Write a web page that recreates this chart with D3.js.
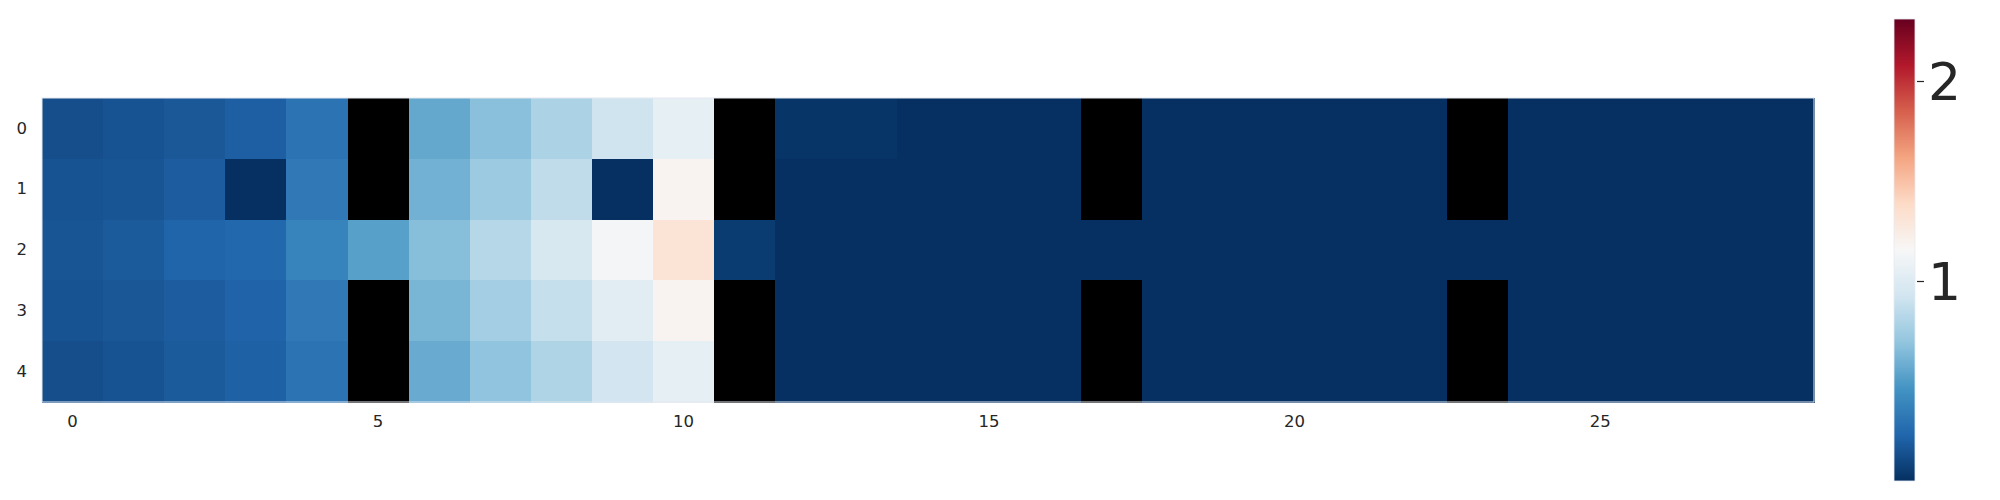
<!DOCTYPE html>
<html>
<head>
<meta charset="utf-8">
<script src="https://cdn.jsdelivr.net/npm/d3@7"></script>
<style>
  html, body { margin: 0; padding: 0; background: #ffffff; }
  svg { display: block; font-family: "DejaVu Sans", sans-serif; }
</style>
</head>
<body>
<svg id="chart" width="2000" height="500"></svg>
<script>
// ---- data (null = missing, drawn black) ----
const rowLabels = ["0", "1", "2", "3", "4"];
const colIndex = d3.range(29);
const xTickLabels = [0, 5, 10, 15, 20, 25];
const cbarTicks = [1, 2];
const cbarDomain = [0, 2.31];

const row0 = [0.13, 0.15, 0.17, 0.20, 0.30, null, 0.56, 0.67, 0.79, 0.92, 1.05, null, 0.02, 0.02, 0, 0, 0, null, 0, 0, 0, 0, 0, null, 0, 0, 0, 0, 0];
const row1 = [0.15, 0.16, 0.19, 0.00, 0.33, null, 0.60, 0.73, 0.86, 0.00, 1.19, null, 0, 0, 0, 0, 0, null, 0, 0, 0, 0, 0, null, 0, 0, 0, 0, 0];
const row2 = [0.16, 0.18, 0.225, 0.24, 0.38, 0.52, 0.66, 0.82, 0.96, 1.13, 1.32, 0.05, 0, 0, 0, 0, 0, 0, 0, 0, 0, 0, 0, 0, 0, 0, 0, 0, 0];
const row3 = [0.15, 0.165, 0.19, 0.22, 0.33, null, 0.62, 0.76, 0.88, 1.02, 1.19, null, 0, 0, 0, 0, 0, null, 0, 0, 0, 0, 0, null, 0, 0, 0, 0, 0];
const row4 = [0.13, 0.15, 0.18, 0.21, 0.30, null, 0.57, 0.69, 0.80, 0.93, 1.05, null, 0, 0, 0, 0, 0, null, 0, 0, 0, 0, 0, null, 0, 0, 0, 0, 0];
const rows = [row0, row1, row2, row3, row4];

// matplotlib RdBu_r stops
const rdbuR = ["#053061", "#2166ac", "#4393c3", "#92c5de", "#d1e5f0", "#f7f7f7",
               "#fddbc7", "#f4a582", "#d6604d", "#b2182b", "#67001f"];

// ---- layout ----
const svg = d3.select("#chart");
const hm = { x0: 42, x1: 1814, y0: 98, y1: 402 };
const cb = { x0: 1894, x1: 1915, y0: 19, y1: 481 };

const x = d3.scaleBand().domain(colIndex).range([hm.x0, hm.x1]).padding(0);
const y = d3.scaleBand().domain(d3.range(rowLabels.length)).range([hm.y0, hm.y1]).padding(0);

const stopScale = d3.scaleLinear()
  .domain(d3.range(rdbuR.length).map(i => cbarDomain[0] + (cbarDomain[1] - cbarDomain[0]) * i / (rdbuR.length - 1)))
  .range(rdbuR)
  .interpolate(d3.interpolateRgb)
  .clamp(true);

const color = v => (v === null || v === undefined) ? "#000000" : stopScale(v);

// ---- cells ----
const cells = [];
rows.forEach((r, ri) => r.forEach((v, ci) => cells.push({ r: ri, c: ci, v })));

svg.append("g").selectAll("rect").data(cells).join("rect")
  .attr("x", d => x(d.c))
  .attr("y", d => y(d.r))
  .attr("width", x.bandwidth() + 0.5)
  .attr("height", y.bandwidth() + 0.5)
  .attr("fill", d => color(d.v))
  .attr("shape-rendering", "crispEdges");

svg.append("rect")
  .attr("x", hm.x0).attr("y", hm.y0)
  .attr("width", hm.x1 - hm.x0).attr("height", hm.y1 - hm.y0)
  .attr("fill", "none").attr("stroke", "#e3e8f0").attr("stroke-width", 1);

// ---- axes ----
const xAxis = d3.axisBottom(x).tickValues(xTickLabels).tickSize(0).tickPadding(0).tickFormat(d3.format("d"));
const gx = svg.append("g").attr("transform", `translate(0,${hm.y1 + 13})`).call(xAxis);
gx.select(".domain").remove();
gx.selectAll("text").attr("font-size", "16.5px").attr("fill", "#262626")
  .attr("font-family", "DejaVu Sans, sans-serif");

const yAxis = d3.axisLeft(y).tickFormat(i => rowLabels[i]).tickSize(0).tickPadding(15);
const gy = svg.append("g").attr("transform", `translate(${hm.x0},0)`).call(yAxis);
gy.select(".domain").remove();
gy.selectAll("text").attr("font-size", "16.5px").attr("fill", "#262626")
  .attr("font-family", "DejaVu Sans, sans-serif");

// ---- colorbar ----
const cbY = d3.scaleLinear().domain(cbarDomain).range([cb.y1, cb.y0]);
const defs = svg.append("defs");
const grad = defs.append("linearGradient").attr("id", "cbgrad")
  .attr("x1", 0).attr("y1", 1).attr("x2", 0).attr("y2", 0);
grad.selectAll("stop").data(d3.range(101)).join("stop")
  .attr("offset", d => d + "%")
  .attr("stop-color", d => stopScale(cbarDomain[0] + (cbarDomain[1] - cbarDomain[0]) * d / 100));

svg.append("rect")
  .attr("x", cb.x0).attr("y", cb.y0)
  .attr("width", cb.x1 - cb.x0).attr("height", cb.y1 - cb.y0)
  .attr("fill", "url(#cbgrad)")
  .attr("stroke", "#e6ebf3").attr("stroke-width", 0.8);

const cAxis = d3.axisRight(cbY).tickValues(cbarTicks).tickSize(7).tickPadding(4).tickFormat(d3.format("d"));
const gc = svg.append("g").attr("transform", `translate(${cb.x1 + 2},0)`).call(cAxis);
gc.select(".domain").remove();
gc.selectAll("line").attr("stroke", "#262626").attr("stroke-width", 1.2);
gc.selectAll("text").attr("font-size", "52px").attr("fill", "#262626")
  .attr("font-family", "DejaVu Sans, sans-serif").attr("dy", "0.36em");
</script>
</body>
</html>
